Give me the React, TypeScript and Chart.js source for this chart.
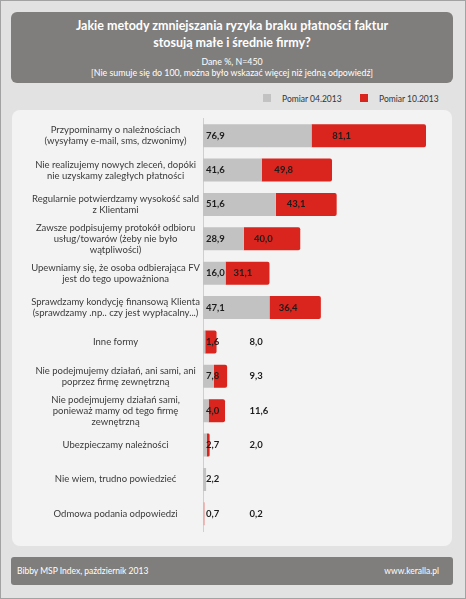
import React, { useEffect, useRef } from "react";
import { Chart, registerables } from "chart.js";

Chart.register(...registerables);

const categories: (string | string[])[] = [
  ["Przypominamy o należnościach", "(wysyłamy e-mail, sms, dzwonimy)"],
  ["Nie realizujemy nowych zleceń, dopóki", "nie uzyskamy zaległych płatności"],
  ["Regularnie potwierdzamy wysokość sald", "z Klientami"],
  ["Zawsze podpisujemy protokół odbioru", "usług/towarów (żeby nie było", "wątpliwości)"],
  ["Upewniamy się, że osoba odbierająca FV", "jest do tego upoważniona"],
  ["Sprawdzamy kondycję finansową Klienta", "(sprawdzamy .np.. czy jest wypłacalny...)"],
  "Inne formy",
  ["Nie podejmujemy działań, ani sami, ani", "poprzez firmę zewnętrzną"],
  ["Nie podejmujemy działań sami,", "ponieważ mamy od tego firmę", "zewnętrzną"],
  "Ubezpieczamy należności",
  "Nie wiem, trudno powiedzieć",
  "Odmowa podania odpowiedzi",
];

const april2013: number[] = [76.9, 41.6, 51.6, 28.9, 16.0, 47.1, 1.6, 7.8, 4.0, 2.7, 2.2, 0.7];
const october2013: (number | null)[] = [81.1, 49.8, 43.1, 40.0, 31.1, 36.4, 8.0, 9.3, 11.6, 2.0, null, 0.2];

const seriesNames = ["Pomiar 04.2013", "Pomiar 10.2013"];
const titleLines = ["Jakie metody zmniejszania ryzyka braku płatności faktur", "stosują małe i średnie firmy?"];
const subtitleLines = ["Dane %, N=450", "[Nie sumuje się do 100, można było wskazać więcej niż jedną odpowiedź]"];
const footerLeft = "Bibby MSP Index, październik 2013";
const footerRight = "www.keralla.pl";

const GRAY = "#c2c2c2";
const RED = "#d9251d";
const DARK = "#807e7c";
const FONT = "Lato, 'Open Sans', sans-serif";

const fmt = (v: number) => v.toFixed(1).replace(".", ",");

const valueLabels = {
  id: "valueLabels",
  afterDatasetsDraw(chart: any) {
    const ctx = chart.ctx;
    const xs = chart.scales.x;
    const meta = chart.getDatasetMeta(0);
    const base = xs.getPixelForValue(0);
    const column = xs.getPixelForValue(33);
    ctx.save();
    ctx.font = `bold 9.5px ${FONT}`;
    ctx.fillStyle = "#1c1c1c";
    ctx.textBaseline = "middle";
    ctx.textAlign = "left";
    april2013.forEach((v, i) => {
      const y = meta.data[i].y;
      ctx.fillText(fmt(v), base + 3, y);
      const r = october2013[i];
      if (r == null) return;
      const start = xs.getPixelForValue(v);
      const end = xs.getPixelForValue(v + r);
      const w = end - start;
      const lx = w > 30 ? start + Math.max(4, w * 0.18) : column;
      ctx.fillText(fmt(r), lx, y);
    });
    ctx.restore();
  },
};

function BarChart() {
  const ref = useRef<HTMLCanvasElement | null>(null);
  useEffect(() => {
    if (!ref.current) return;
    const chart = new Chart(ref.current, {
      type: "bar",
      data: {
        labels: categories,
        datasets: [
          {
            label: seriesNames[0],
            data: april2013,
            backgroundColor: GRAY,
            borderWidth: 0,
            categoryPercentage: 1,
            barPercentage: 0.67,
          },
          {
            label: seriesNames[1],
            data: october2013,
            backgroundColor: RED,
            borderWidth: 0,
            borderRadius: 2,
            categoryPercentage: 1,
            barPercentage: 0.67,
          },
        ],
      },
      options: {
        indexAxis: "y",
        animation: false,
        responsive: true,
        maintainAspectRatio: false,
        layout: { padding: { top: 6, bottom: 15, left: 0, right: 2 } },
        plugins: {
          legend: { display: false },
          tooltip: { enabled: false },
          title: { display: false },
        },
        scales: {
          x: {
            stacked: true,
            display: false,
            min: 0,
            max: 175,
          },
          y: {
            stacked: true,
            grid: { display: false, drawTicks: false },
            border: { display: true, color: "#cfcfcf", width: 1 },
            afterFit: (scale: any) => {
              scale.width = 191;
            },
            ticks: {
              autoSkip: false,
              crossAlign: "center",
              padding: 3,
              color: "#3a3a3a",
              font: { family: FONT, size: 9.5, lineHeight: 1.15 },
            },
          },
        },
      },
      plugins: [valueLabels],
    } as any);
    return () => chart.destroy();
  }, []);
  return <canvas ref={ref} />;
}

export default function App() {
  const abs = (s: React.CSSProperties): React.CSSProperties => ({ position: "absolute", ...s });
  return (
    <>
      <style>{"body{margin:0}"}</style>
      <div
        style={{
          position: "relative",
          width: 466,
          height: 599,
          boxSizing: "border-box",
          background: "#e2e2e2",
          border: "1px solid #a2a2a2",
          fontFamily: FONT,
          overflow: "hidden",
        }}
      >
        <div style={abs({ left: 10, top: 11, width: 442, height: 71, background: DARK, borderRadius: 6 })}>
          {titleLines.map((t, i) => (
            <div
              key={t}
              style={abs({
                left: 0,
                right: 0,
                top: 5 + i * 17,
                lineHeight: "17px",
                textAlign: "center",
                color: "#fff",
                fontWeight: 700,
                fontSize: 12.5,
              })}
            >
              {t}
            </div>
          ))}
          {subtitleLines.map((t, i) => (
            <div
              key={t}
              style={abs({
                left: 0,
                right: 0,
                top: 44 + i * 11,
                lineHeight: "11px",
                textAlign: "center",
                color: "#fff",
                fontSize: 8.8,
              })}
            >
              {t}
            </div>
          ))}
        </div>
        <div style={abs({ left: 262, top: 93, width: 8, height: 8, background: GRAY })} />
        <div style={abs({ left: 281, top: 92, lineHeight: "12px", fontSize: 8.5, color: "#333" })}>{seriesNames[0]}</div>
        <div style={abs({ left: 359, top: 93, width: 8, height: 8, background: RED })} />
        <div style={abs({ left: 378, top: 92, lineHeight: "12px", fontSize: 8.5, color: "#333" })}>{seriesNames[1]}</div>
        <div style={abs({ left: 11, top: 109, width: 440, height: 436, background: "#f3f3f3", borderRadius: 8 })}>
          <div style={{ position: "relative", width: 440, height: 436 }}>
            <BarChart />
          </div>
        </div>
        <div style={abs({ left: 10, top: 556, width: 442, height: 28, background: DARK, borderRadius: 3 })}>
          <div style={abs({ left: 6, top: 0, lineHeight: "28px", fontSize: 8.5, color: "#fff" })}>{footerLeft}</div>
          <div style={abs({ right: 14, top: 0, lineHeight: "28px", fontSize: 8.5, color: "#fff" })}>{footerRight}</div>
        </div>
      </div>
    </>
  );
}
